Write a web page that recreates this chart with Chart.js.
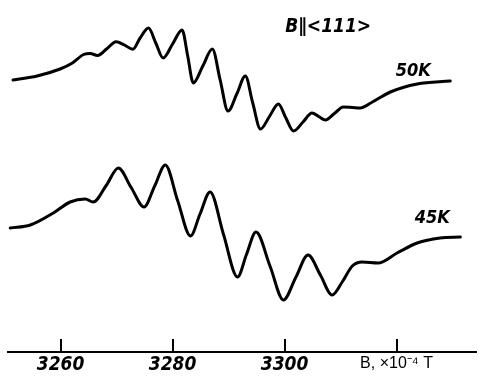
<!DOCTYPE html>
<html><head><meta charset="utf-8">
<script src="https://cdn.jsdelivr.net/npm/chart.js@4/dist/chart.umd.min.js"></script>
<style>html,body{margin:0;padding:0;background:#fff;}canvas{display:block;}</style>
</head><body>
<canvas id="c" width="479" height="377"></canvas>
<script>
// Magnetic field B (x10^-4 T) and ESR signal (arbitrary units, baseline-shifted for display)
const field50K = [3251.5,3255.8,3259.9,3262.1,3264.1,3265.3,3266.6,3268.2,3269.9,3271.4,3272.9,3274.2,3275.7,3277.0,3278.3,3280.0,3281.7,3282.7,3283.7,3285.4,3287.1,3288.5,3289.9,3291.5,3293.0,3294.3,3295.7,3297.3,3298.9,3300.2,3301.6,3303.3,3304.9,3306.1,3307.3,3308.9,3310.5,3312.1,3313.5,3315.7,3318.9,3323.7,3329.6];
const signal50K = [272,276,283,289,297.5,298.5,296.5,303,310.3,307,302.7,314,324,309,294,308,322,296,269,286,303,272,241,258.5,276,249.5,223,235.5,248,234.5,221,230,239,235.5,232,238.5,245,244.5,244,250,260,268,271];
const field45K = [3251.0,3254.6,3258.7,3261.7,3264.4,3265.8,3268.2,3270.3,3272.6,3274.9,3276.8,3278.7,3280.9,3283.2,3284.9,3286.7,3289.1,3291.6,3293.2,3294.9,3297.4,3299.8,3302.0,3304.2,3306.4,3308.5,3310.3,3312.1,3313.9,3316.7,3320.1,3323.7,3327.8,3331.4];
const signal45K = [124,127,139,150,153,150,167,184,164.5,145,166,187,151.5,116,138,160,117.5,75,97.5,120,86,52,74.5,97,77,57,70,86,90,89,99,109,114,115];
const tickValues = [3260,3280,3300,3320];
const tickLabels = ['3260','3280','3300','B, \u00d710\u207b\u2074 T'];
const seriesNames = ['50K','45K'];
const orientationLabel = 'B\u2225<111>';

const toPoints = (xs, ys) => xs.map((x, i) => ({x: x, y: ys[i]}));
const numFont = '"Liberation Sans Narrow", "DejaVu Sans Condensed", "Liberation Sans", sans-serif';

const annotate = {
  id: 'annotate',
  afterDraw(chart) {
    const {ctx, scales: {x, y}, chartArea} = chart;
    ctx.save();
    // upward tick marks on the axis
    ctx.strokeStyle = '#000';
    ctx.lineWidth = 2;
    tickValues.forEach(v => {
      const px = Math.round(x.getPixelForValue(v));
      ctx.beginPath();
      ctx.moveTo(px, chartArea.bottom);
      ctx.lineTo(px, chartArea.bottom - 13);
      ctx.stroke();
    });
    ctx.fillStyle = '#000';
    ctx.textAlign = 'center';
    ctx.textBaseline = 'middle';
    ctx.font = 'italic bold 18px ' + numFont;
    ctx.fillText(seriesNames[0], x.getPixelForValue(3323.0), y.getPixelForValue(281));
    ctx.fillText(seriesNames[1], x.getPixelForValue(3326.4), y.getPixelForValue(134));
    ctx.font = 'italic bold 19px ' + numFont;
    ctx.fillText(orientationLabel, x.getPixelForValue(3307.8), y.getPixelForValue(325));
    ctx.restore();
  }
};

new Chart(document.getElementById('c'), {
  type: 'line',
  data: {
    datasets: [
      {label: seriesNames[0], data: toPoints(field50K, signal50K)},
      {label: seriesNames[1], data: toPoints(field45K, signal45K)}
    ]
  },
  options: {
    responsive: false,
    animation: false,
    devicePixelRatio: 1,
    layout: {padding: {left: 8, right: 3, top: 0, bottom: 0}},
    elements: {
      line: {borderColor: '#000', borderWidth: 3, cubicInterpolationMode: 'monotone', fill: false, borderCapStyle: 'round', borderJoinStyle: 'round'},
      point: {radius: 0}
    },
    plugins: {legend: {display: false}, tooltip: {enabled: false}},
    scales: {
      x: {
        type: 'linear',
        min: 3250.6,
        max: 3334.2,
        grid: {display: false, drawTicks: false},
        border: {display: true, color: '#000', width: 2},
        afterBuildTicks: s => { s.ticks = tickValues.map(v => ({value: v})); },
        afterFit: s => { s.height = 25; },
        ticks: {
          color: '#000',
          padding: 2,
          maxRotation: 0,
          autoSkip: false,
          callback: (v) => { const i = tickValues.indexOf(v); return i >= 0 ? tickLabels[i] : ''; },
          font: (c) => (c.tick && c.tick.value === 3320)
            ? {family: '"Liberation Sans", Arial, sans-serif', size: 16, style: 'normal', weight: 'normal'}
            : {family: numFont, size: 19, style: 'italic', weight: 'bold'}
        }
      },
      y: {display: false, min: 0, max: 352}
    }
  },
  plugins: [annotate]
});
</script>
</body></html>
